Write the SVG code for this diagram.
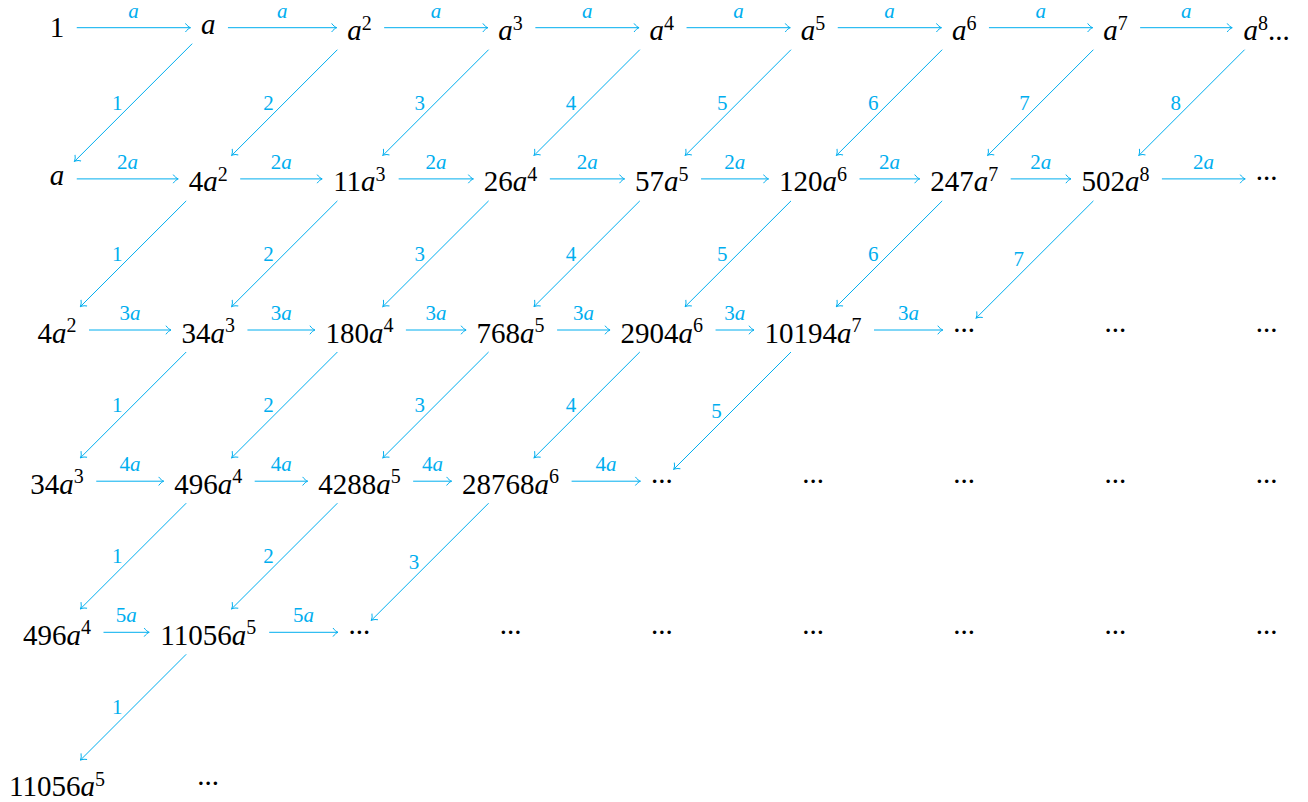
<svg xmlns="http://www.w3.org/2000/svg" width="1308" height="802" viewBox="0 0 1308 802">
<style>
.n{font-family:"Liberation Serif",serif;font-size:29px;fill:#000;text-anchor:middle}
.i{font-style:italic}
.s{font-size:20px;font-style:normal}
.e{stroke:#00AEEF;stroke-width:1;fill:none;marker-end:url(#ah)}
.l{font-family:"Liberation Serif",serif;font-size:21px;fill:#00AEEF;text-anchor:middle}
</style>
<defs>
<marker id="ah" viewBox="-6 -5 7 10" markerWidth="7" markerHeight="10" refX="0" refY="0" orient="auto" markerUnits="userSpaceOnUse">
<path d="M-5,-4.3 C-3.5,-2 -1.2,-0.5 0,0 C-1.2,0.5 -3.5,2 -5,4.3" fill="none" stroke="#00AEEF" stroke-width="1"/>
</marker>
</defs>
<g id="connectors">
<!-- row 0 horizontal -->
<g><line class="e" x1="76.75" y1="27.7" x2="190.45" y2="27.7"/><text class="l i" x="133.6" y="17.7">a</text></g>
<g><line class="e" x1="227.95" y1="27.7" x2="336.65" y2="27.7"/><text class="l i" x="282.3" y="17.7">a</text></g>
<g><line class="e" x1="384.15" y1="27.7" x2="487.85" y2="27.7"/><text class="l i" x="436" y="17.7">a</text></g>
<g><line class="e" x1="535.35" y1="27.7" x2="639.05" y2="27.7"/><text class="l i" x="587.2" y="17.7">a</text></g>
<g><line class="e" x1="686.55" y1="27.7" x2="790.25" y2="27.7"/><text class="l i" x="738.4" y="17.7">a</text></g>
<g><line class="e" x1="837.75" y1="27.7" x2="941.45" y2="27.7"/><text class="l i" x="889.6" y="17.7">a</text></g>
<g><line class="e" x1="988.95" y1="27.7" x2="1092.65" y2="27.7"/><text class="l i" x="1040.8" y="17.7">a</text></g>
<g><line class="e" x1="1140.15" y1="27.7" x2="1232.2" y2="27.7"/><text class="l i" x="1186.2" y="17.7">a</text></g>
<!-- row 1 horizontal -->
<g><line class="e" x1="76.75" y1="178.9" x2="178.2" y2="178.9"/><text class="l" x="127.5" y="168.9">2<tspan class="i">a</tspan></text></g>
<g><line class="e" x1="240.2" y1="178.9" x2="322.15" y2="178.9"/><text class="l" x="281.2" y="168.9">2<tspan class="i">a</tspan></text></g>
<g><line class="e" x1="398.65" y1="178.9" x2="473.35" y2="178.9"/><text class="l" x="436" y="168.9">2<tspan class="i">a</tspan></text></g>
<g><line class="e" x1="549.85" y1="178.9" x2="624.55" y2="178.9"/><text class="l" x="587.2" y="168.9">2<tspan class="i">a</tspan></text></g>
<g><line class="e" x1="701.05" y1="178.9" x2="768.5" y2="178.9"/><text class="l" x="734.8" y="168.9">2<tspan class="i">a</tspan></text></g>
<g><line class="e" x1="859.5" y1="178.9" x2="919.7" y2="178.9"/><text class="l" x="889.6" y="168.9">2<tspan class="i">a</tspan></text></g>
<g><line class="e" x1="1010.7" y1="178.9" x2="1070.9" y2="178.9"/><text class="l" x="1040.8" y="168.9">2<tspan class="i">a</tspan></text></g>
<g><line class="e" x1="1161.9" y1="178.9" x2="1245.2" y2="178.9"/><text class="l" x="1203.6" y="168.9">2<tspan class="i">a</tspan></text></g>
<!-- row 2 horizontal -->
<g><line class="e" x1="89" y1="330" x2="170.95" y2="330"/><text class="l" x="130" y="320">3<tspan class="i">a</tspan></text></g>
<g><line class="e" x1="247.45" y1="330" x2="314.9" y2="330"/><text class="l" x="281.2" y="320">3<tspan class="i">a</tspan></text></g>
<g><line class="e" x1="405.9" y1="330" x2="466.1" y2="330"/><text class="l" x="436" y="320">3<tspan class="i">a</tspan></text></g>
<g><line class="e" x1="557.1" y1="330" x2="610.05" y2="330"/><text class="l" x="583.6" y="320">3<tspan class="i">a</tspan></text></g>
<g><line class="e" x1="715.55" y1="330" x2="754" y2="330"/><text class="l" x="734.8" y="320">3<tspan class="i">a</tspan></text></g>
<g><line class="e" x1="874" y1="330" x2="942.8" y2="330"/><text class="l" x="908.4" y="320">3<tspan class="i">a</tspan></text></g>
<!-- row 3 horizontal -->
<g><line class="e" x1="96.25" y1="481.2" x2="163.7" y2="481.2"/><text class="l" x="130" y="471.2">4<tspan class="i">a</tspan></text></g>
<g><line class="e" x1="254.7" y1="481.2" x2="307.65" y2="481.2"/><text class="l" x="281.2" y="471.2">4<tspan class="i">a</tspan></text></g>
<g><line class="e" x1="413.15" y1="481.2" x2="451.6" y2="481.2"/><text class="l" x="432.4" y="471.2">4<tspan class="i">a</tspan></text></g>
<g><line class="e" x1="571.6" y1="481.2" x2="640.4" y2="481.2"/><text class="l" x="606" y="471.2">4<tspan class="i">a</tspan></text></g>
<!-- row 4 horizontal -->
<g><line class="e" x1="103.5" y1="632.3" x2="149.2" y2="632.3"/><text class="l" x="126.35" y="622.3">5<tspan class="i">a</tspan></text></g>
<g><line class="e" x1="269.2" y1="632.3" x2="338" y2="632.3"/><text class="l" x="303.6" y="622.3">5<tspan class="i">a</tspan></text></g>
<!-- diagonals row 0 to 1 -->
<g><line class="e" x1="192.2" y1="43.7" x2="74.5" y2="161.4"/><text class="l" x="117.35" y="109.5">1</text></g>
<g><line class="e" x1="337.4" y1="49.7" x2="231.7" y2="155.4"/><text class="l" x="268.55" y="109.5">2</text></g>
<g><line class="e" x1="488.6" y1="49.7" x2="382.9" y2="155.4"/><text class="l" x="419.75" y="109.5">3</text></g>
<g><line class="e" x1="639.8" y1="49.7" x2="534.1" y2="155.4"/><text class="l" x="570.95" y="109.5">4</text></g>
<g><line class="e" x1="791" y1="49.7" x2="685.3" y2="155.4"/><text class="l" x="722.15" y="109.5">5</text></g>
<g><line class="e" x1="942.2" y1="49.7" x2="836.5" y2="155.4"/><text class="l" x="873.35" y="109.5">6</text></g>
<g><line class="e" x1="1093.4" y1="49.7" x2="987.7" y2="155.4"/><text class="l" x="1024.55" y="109.5">7</text></g>
<g><line class="e" x1="1244.6" y1="49.7" x2="1138.9" y2="155.4"/><text class="l" x="1175.75" y="109.5">8</text></g>
<!-- diagonals row 1 to 2 -->
<g><line class="e" x1="186.2" y1="200.9" x2="80.5" y2="306.5"/><text class="l" x="117.35" y="260.7">1</text></g>
<g><line class="e" x1="337.4" y1="200.9" x2="231.7" y2="306.5"/><text class="l" x="268.55" y="260.7">2</text></g>
<g><line class="e" x1="488.6" y1="200.9" x2="382.9" y2="306.5"/><text class="l" x="419.75" y="260.7">3</text></g>
<g><line class="e" x1="639.8" y1="200.9" x2="534.1" y2="306.5"/><text class="l" x="570.95" y="260.7">4</text></g>
<g><line class="e" x1="791" y1="200.9" x2="685.3" y2="306.5"/><text class="l" x="722.15" y="260.7">5</text></g>
<g><line class="e" x1="942.2" y1="200.9" x2="836.5" y2="306.5"/><text class="l" x="873.35" y="260.7">6</text></g>
<g><line class="e" x1="1093.4" y1="200.9" x2="976.2" y2="318"/><text class="l" x="1018.8" y="266.45">7</text></g>
<!-- diagonals row 2 to 3 -->
<g><line class="e" x1="186.2" y1="352" x2="80.5" y2="457.7"/><text class="l" x="117.35" y="411.85">1</text></g>
<g><line class="e" x1="337.4" y1="352" x2="231.7" y2="457.7"/><text class="l" x="268.55" y="411.85">2</text></g>
<g><line class="e" x1="488.6" y1="352" x2="382.9" y2="457.7"/><text class="l" x="419.75" y="411.85">3</text></g>
<g><line class="e" x1="639.8" y1="352" x2="534.1" y2="457.7"/><text class="l" x="570.95" y="411.85">4</text></g>
<g><line class="e" x1="791" y1="352" x2="673.8" y2="469.2"/><text class="l" x="716.4" y="417.6">5</text></g>
<!-- diagonals row 3 to 4 -->
<g><line class="e" x1="186.2" y1="503.2" x2="80.5" y2="608.8"/><text class="l" x="117.35" y="563">1</text></g>
<g><line class="e" x1="337.4" y1="503.2" x2="231.7" y2="608.8"/><text class="l" x="268.55" y="563">2</text></g>
<g><line class="e" x1="488.6" y1="503.2" x2="371.4" y2="620.3"/><text class="l" x="414" y="568.75">3</text></g>
<!-- diagonal row 4 to 5 -->
<g><line class="e" x1="186.2" y1="654.3" x2="80.5" y2="760"/><text class="l" x="117.35" y="714.15">1</text></g>
</g>
<!-- row 0 -->
<g id="n00"><text class="n" x="57" y="37">1</text></g>
<g id="n01"><text class="n i" x="208.2" y="34">a</text></g>
<g id="n02"><text class="n" x="359.4" y="40.2"><tspan class="i">a</tspan><tspan class="s" dy="-10.5">2</tspan></text></g>
<g id="n03"><text class="n" x="510.6" y="40.2"><tspan class="i">a</tspan><tspan class="s" dy="-10.5">3</tspan></text></g>
<g id="n04"><text class="n" x="661.8" y="40.2"><tspan class="i">a</tspan><tspan class="s" dy="-10.5">4</tspan></text></g>
<g id="n05"><text class="n" x="813" y="40.2"><tspan class="i">a</tspan><tspan class="s" dy="-10.5">5</tspan></text></g>
<g id="n06"><text class="n" x="964.2" y="40.2"><tspan class="i">a</tspan><tspan class="s" dy="-10.5">6</tspan></text></g>
<g id="n07"><text class="n" x="1115.4" y="40.2"><tspan class="i">a</tspan><tspan class="s" dy="-10.5">7</tspan></text></g>
<g id="n08"><text class="n" x="1266.6" y="40.2"><tspan class="i">a</tspan><tspan class="s" dy="-10.5">8</tspan><tspan dy="10.5">...</tspan></text></g>
<!-- row 1 -->
<g id="n10"><text class="n i" x="57" y="185.2">a</text></g>
<g id="n11"><text class="n" x="208.2" y="191.4">4<tspan class="i">a</tspan><tspan class="s" dy="-10.5">2</tspan></text></g>
<g id="n12"><text class="n" x="359.4" y="191.4">11<tspan class="i">a</tspan><tspan class="s" dy="-10.5">3</tspan></text></g>
<g id="n13"><text class="n" x="510.6" y="191.4">26<tspan class="i">a</tspan><tspan class="s" dy="-10.5">4</tspan></text></g>
<g id="n14"><text class="n" x="661.8" y="191.4">57<tspan class="i">a</tspan><tspan class="s" dy="-10.5">5</tspan></text></g>
<g id="n15"><text class="n" x="813" y="191.4">120<tspan class="i">a</tspan><tspan class="s" dy="-10.5">6</tspan></text></g>
<g id="n16"><text class="n" x="964.2" y="191.4">247<tspan class="i">a</tspan><tspan class="s" dy="-10.5">7</tspan></text></g>
<g id="n17"><text class="n" x="1115.4" y="191.4">502<tspan class="i">a</tspan><tspan class="s" dy="-10.5">8</tspan></text></g>
<g id="n18"><text class="n" x="1266.6" y="180.4">...</text></g>
<!-- row 2 -->
<g id="n20"><text class="n" x="57" y="342.5">4<tspan class="i">a</tspan><tspan class="s" dy="-10.5">2</tspan></text></g>
<g id="n21"><text class="n" x="208.2" y="342.5">34<tspan class="i">a</tspan><tspan class="s" dy="-10.5">3</tspan></text></g>
<g id="n22"><text class="n" x="359.4" y="342.5">180<tspan class="i">a</tspan><tspan class="s" dy="-10.5">4</tspan></text></g>
<g id="n23"><text class="n" x="510.6" y="342.5">768<tspan class="i">a</tspan><tspan class="s" dy="-10.5">5</tspan></text></g>
<g id="n24"><text class="n" x="661.8" y="342.5">2904<tspan class="i">a</tspan><tspan class="s" dy="-10.5">6</tspan></text></g>
<g id="n25"><text class="n" x="813" y="342.5">10194<tspan class="i">a</tspan><tspan class="s" dy="-10.5">7</tspan></text></g>
<g id="n26"><text class="n" x="964.2" y="331.5">...</text></g>
<g id="n27"><text class="n" x="1115.4" y="331.5">...</text></g>
<g id="n28"><text class="n" x="1266.6" y="331.5">...</text></g>
<!-- row 3 -->
<g id="n30"><text class="n" x="57" y="493.7">34<tspan class="i">a</tspan><tspan class="s" dy="-10.5">3</tspan></text></g>
<g id="n31"><text class="n" x="208.2" y="493.7">496<tspan class="i">a</tspan><tspan class="s" dy="-10.5">4</tspan></text></g>
<g id="n32"><text class="n" x="359.4" y="493.7">4288<tspan class="i">a</tspan><tspan class="s" dy="-10.5">5</tspan></text></g>
<g id="n33"><text class="n" x="510.6" y="493.7">28768<tspan class="i">a</tspan><tspan class="s" dy="-10.5">6</tspan></text></g>
<g id="n34"><text class="n" x="661.8" y="482.7">...</text></g>
<g id="n35"><text class="n" x="813" y="482.7">...</text></g>
<g id="n36"><text class="n" x="964.2" y="482.7">...</text></g>
<g id="n37"><text class="n" x="1115.4" y="482.7">...</text></g>
<g id="n38"><text class="n" x="1266.6" y="482.7">...</text></g>
<!-- row 4 -->
<g id="n40"><text class="n" x="57" y="644.8">496<tspan class="i">a</tspan><tspan class="s" dy="-10.5">4</tspan></text></g>
<g id="n41"><text class="n" x="208.2" y="644.8">11056<tspan class="i">a</tspan><tspan class="s" dy="-10.5">5</tspan></text></g>
<g id="n42"><text class="n" x="359.4" y="633.8">...</text></g>
<g id="n43"><text class="n" x="510.6" y="633.8">...</text></g>
<g id="n44"><text class="n" x="661.8" y="633.8">...</text></g>
<g id="n45"><text class="n" x="813" y="633.8">...</text></g>
<g id="n46"><text class="n" x="964.2" y="633.8">...</text></g>
<g id="n47"><text class="n" x="1115.4" y="633.8">...</text></g>
<g id="n48"><text class="n" x="1266.6" y="633.8">...</text></g>
<!-- row 5 -->
<g id="n50"><text class="n" x="57" y="796">11056<tspan class="i">a</tspan><tspan class="s" dy="-10.5">5</tspan></text></g>
<g id="n51"><text class="n" x="208.2" y="785">...</text></g>
</svg>
